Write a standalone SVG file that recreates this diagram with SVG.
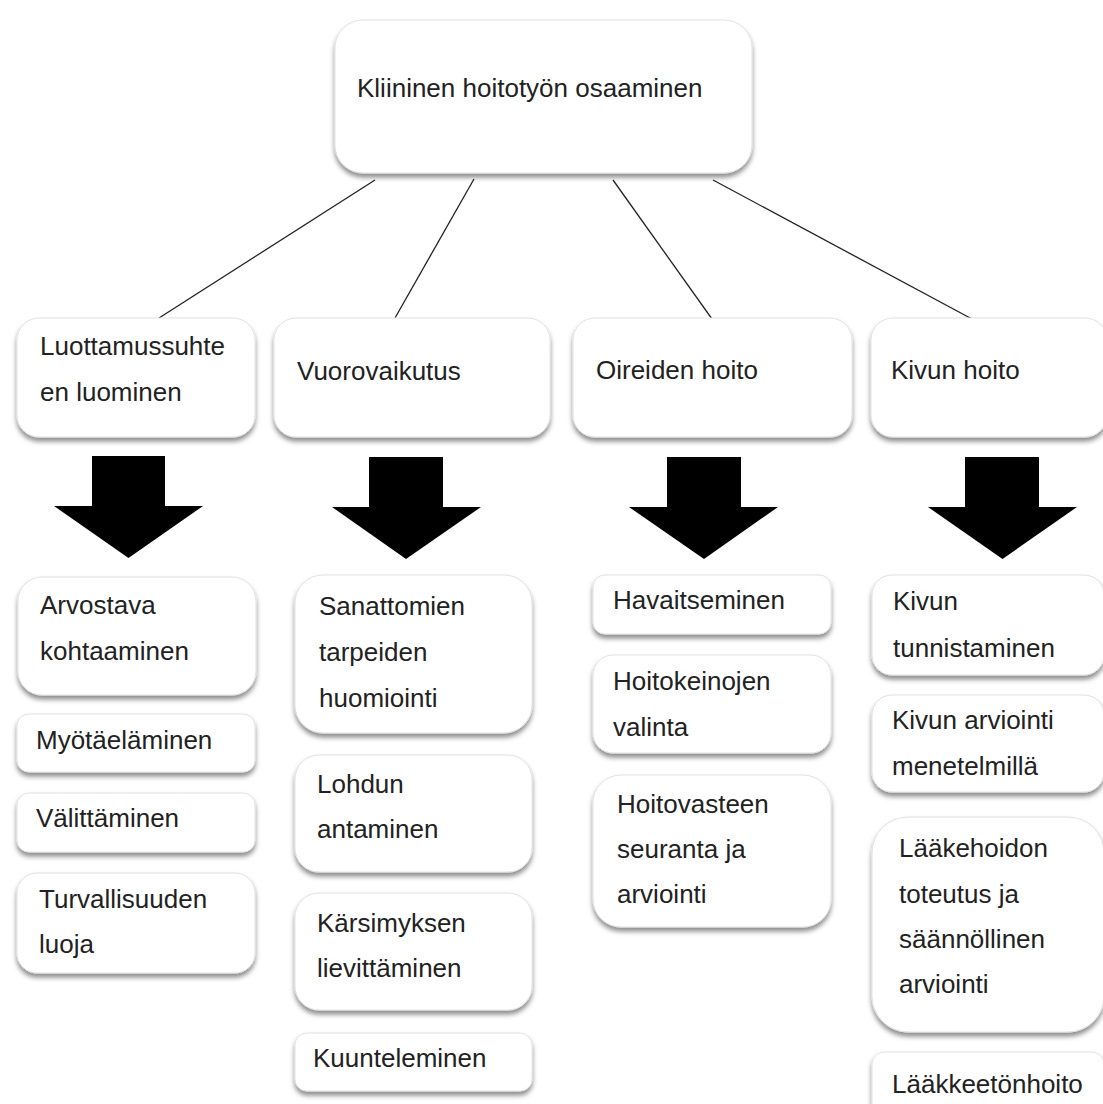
<svg xmlns="http://www.w3.org/2000/svg" width="1103" height="1104" viewBox="0 0 1103 1104">
  <defs>
    <filter id="shadow" x="-10%" y="-20%" width="120%" height="150%">
      <feDropShadow dx="0" dy="4" stdDeviation="2.5" flood-color="#000" flood-opacity="0.45"/>
    </filter>
  </defs>
  <style>
    .box { fill: #ffffff; stroke: #e2e2e2; stroke-width: 1; filter: url(#shadow); }
    .label { font-family: "Liberation Sans", Arial, Helvetica, sans-serif; font-size: 26px; fill: #222222; }
    .link { stroke: #222222; stroke-width: 1.3; fill: none; }
    .bigarrow { fill: #000000; }
  </style>
  <rect width="1103" height="1104" fill="#ffffff"/>

  <!-- tree connectors from the root to the four branches -->
  <g id="connectors">
    <line class="link" x1="375" y1="180" x2="159" y2="318"/>
    <line class="link" x1="474" y1="179" x2="395" y2="318"/>
    <line class="link" x1="613" y1="180" x2="712" y2="319"/>
    <line class="link" x1="713" y1="180" x2="972" y2="319"/>
  </g>

  <!-- block arrows pointing down to each detail column -->
  <g id="down-arrows">
    <polygon class="bigarrow" points="92,456 165,456 165,506 203,506 128.5,558 54,506 92,506"/>
    <polygon class="bigarrow" points="369,457 443,457 443,507 481,507 406,559 332,507 369,507"/>
    <polygon class="bigarrow" points="667,457 741,457 741,507 778,507 704,559 629,507 667,507"/>
    <polygon class="bigarrow" points="965,457 1039,457 1039,507 1077,507 1002.5,559 928,507 965,507"/>
  </g>

  <!-- root -->
  <g id="root">
    <rect class="box" x="335" y="20" width="417" height="153" rx="28"/>
    <text class="label" x="357" y="97">Kliininen hoitotyön osaaminen</text>
  </g>

  <!-- branches -->
  <g id="branch-luottamus">
    <rect class="box" x="17" y="318" width="238" height="119" rx="22"/>
    <text class="label" x="40" y="355">Luottamussuhte</text>
    <text class="label" x="40" y="401">en luominen</text>
  </g>
  <g id="branch-vuorovaikutus">
    <rect class="box" x="274" y="318" width="276" height="119" rx="22"/>
    <text class="label" x="297" y="380">Vuorovaikutus</text>
  </g>
  <g id="branch-oireet">
    <rect class="box" x="573" y="318" width="279" height="119" rx="22"/>
    <text class="label" x="596" y="379">Oireiden hoito</text>
  </g>
  <g id="branch-kipu">
    <rect class="box" x="871" y="318" width="236" height="119" rx="22"/>
    <text class="label" x="891" y="379">Kivun hoito</text>
  </g>

  <!-- column 1 -->
  <g id="arvostava">
    <rect class="box" x="18" y="577" width="238" height="118" rx="24"/>
    <text class="label" x="40" y="614">Arvostava</text>
    <text class="label" x="40" y="660">kohtaaminen</text>
  </g>
  <g id="myotaelaminen">
    <rect class="box" x="17" y="714" width="238" height="58" rx="12"/>
    <text class="label" x="36" y="749">Myötäeläminen</text>
  </g>
  <g id="valittaminen">
    <rect class="box" x="17" y="793" width="238" height="59" rx="12"/>
    <text class="label" x="36" y="827">Välittäminen</text>
  </g>
  <g id="turvallisuus">
    <rect class="box" x="17" y="873" width="238" height="100" rx="20"/>
    <text class="label" x="39" y="908">Turvallisuuden</text>
    <text class="label" x="39" y="953">luoja</text>
  </g>

  <!-- column 2 -->
  <g id="sanattomat">
    <rect class="box" x="295" y="575" width="237" height="158" rx="28"/>
    <text class="label" x="319" y="615">Sanattomien</text>
    <text class="label" x="319" y="661">tarpeiden</text>
    <text class="label" x="319" y="707">huomiointi</text>
  </g>
  <g id="lohdutus">
    <rect class="box" x="295" y="755" width="237" height="117" rx="24"/>
    <text class="label" x="317" y="793">Lohdun</text>
    <text class="label" x="317" y="838">antaminen</text>
  </g>
  <g id="karsimys">
    <rect class="box" x="295" y="893" width="237" height="117" rx="24"/>
    <text class="label" x="317" y="932">Kärsimyksen</text>
    <text class="label" x="317" y="977">lievittäminen</text>
  </g>
  <g id="kuunteleminen">
    <rect class="box" x="295" y="1033" width="237" height="58" rx="12"/>
    <text class="label" x="313" y="1067">Kuunteleminen</text>
  </g>

  <!-- column 3 -->
  <g id="havaitseminen">
    <rect class="box" x="593" y="575" width="238" height="59" rx="12"/>
    <text class="label" x="613" y="609">Havaitseminen</text>
  </g>
  <g id="hoitokeinot">
    <rect class="box" x="593" y="655" width="238" height="98" rx="20"/>
    <text class="label" x="613" y="690">Hoitokeinojen</text>
    <text class="label" x="613" y="736">valinta</text>
  </g>
  <g id="hoitovaste">
    <rect class="box" x="593" y="775" width="238" height="152" rx="28"/>
    <text class="label" x="617" y="813">Hoitovasteen</text>
    <text class="label" x="617" y="858">seuranta ja</text>
    <text class="label" x="617" y="903">arviointi</text>
  </g>

  <!-- column 4 -->
  <g id="kivun-tunnistaminen">
    <rect class="box" x="872" y="575" width="232" height="100" rx="20"/>
    <text class="label" x="893" y="610">Kivun</text>
    <text class="label" x="893" y="657">tunnistaminen</text>
  </g>
  <g id="kivun-arviointi">
    <rect class="box" x="872" y="695" width="232" height="97" rx="20"/>
    <text class="label" x="892" y="729">Kivun arviointi</text>
    <text class="label" x="892" y="775">menetelmillä</text>
  </g>
  <g id="laakehoito">
    <rect class="box" x="872" y="817" width="232" height="215" rx="36"/>
    <text class="label" x="899" y="857">Lääkehoidon</text>
    <text class="label" x="899" y="903">toteutus ja</text>
    <text class="label" x="899" y="948">säännöllinen</text>
    <text class="label" x="899" y="993">arviointi</text>
  </g>
  <g id="laakkeeton">
    <rect class="box" x="872" y="1052" width="232" height="70" rx="12"/>
    <text class="label" x="892" y="1093">Lääkkeetönhoito</text>
  </g>
</svg>
